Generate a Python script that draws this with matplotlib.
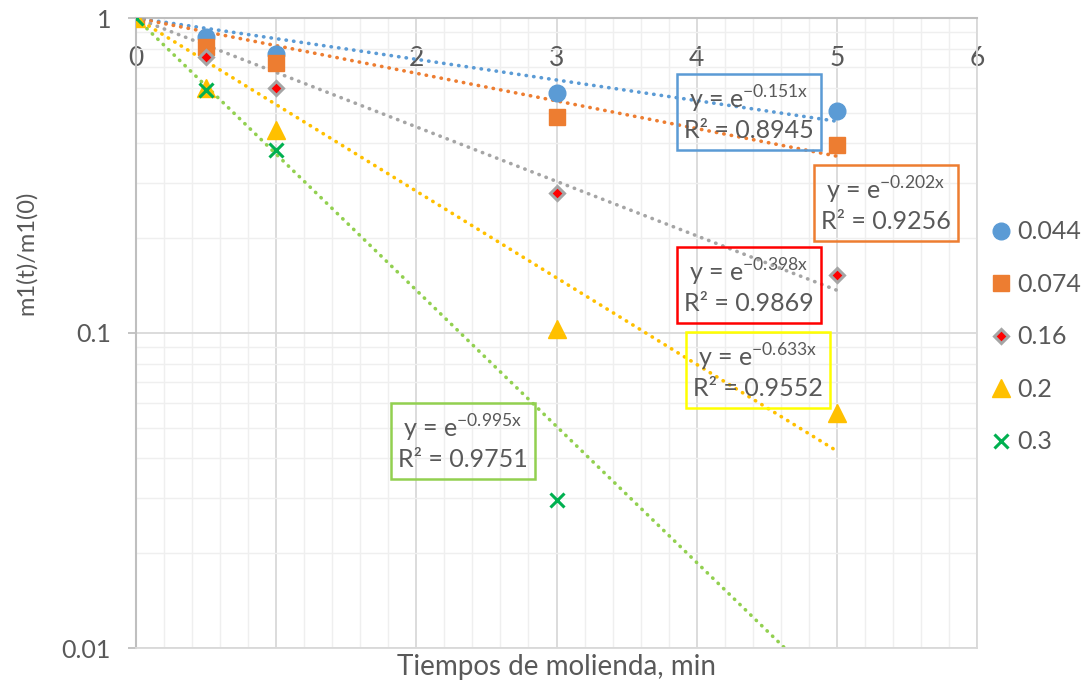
import numpy as np
import matplotlib
matplotlib.use('Agg')
import matplotlib.pyplot as plt
from matplotlib.ticker import FixedLocator, NullFormatter, FixedFormatter

plt.rcParams['font.family'] = ['Lato', 'DejaVu Sans']

# datos
tiempo = [0, 0.5, 1, 3, 5]
y_044 = [1, 0.87, 0.77, 0.58, 0.507]
y_074 = [1, 0.81, 0.72, 0.485, 0.395]
y_016 = [1, 0.75, 0.60, 0.278, 0.153]
y_02 = [1, 0.60, 0.44, 0.103, 0.0557]
t_03 = [0, 0.5, 1, 3]
y_03 = [1, 0.59, 0.38, 0.0295]
etiquetas = ['0.044', '0.074', '0.16', '0.2', '0.3']
k_ajuste = [0.151, 0.202, 0.398, 0.633, 0.995]
r2_ajuste = [0.8945, 0.9256, 0.9869, 0.9552, 0.9751]

gris = '#595959'
c_lin = ['#5B9BD5', '#ED7D31', '#A5A5A5', '#FFC000', '#92D050']
c_caja = ['#5B9BD5', '#ED7D31', '#FF0000', '#FFFF00', '#92D050']
pos_caja = [(749, 113), (886, 204), (749, 286), (758, 371), (463, 442)]

fig = plt.figure(figsize=(10.85, 6.86), dpi=100)
ax = fig.add_axes([136/1085, 1-648/686, 841/1085, 630/686])
ax.set_yscale('log')
ax.set_xlim(0, 6)
ax.set_ylim(0.01, 1)

# grid
ax.xaxis.set_major_locator(FixedLocator(range(7)))
ax.xaxis.set_minor_locator(FixedLocator(np.arange(0, 6.01, 0.2)))
ax.yaxis.set_major_locator(FixedLocator([0.01, 0.1, 1]))
ax.yaxis.set_minor_locator(FixedLocator([m*d for d in (0.01, 0.1) for m in range(2, 10)]))
ax.yaxis.set_major_formatter(FixedFormatter(['0.01', '0.1', '1']))
ax.yaxis.set_minor_formatter(NullFormatter())
ax.grid(which='minor', color='#efefef', lw=1.0, zorder=0)
ax.grid(which='major', color='#d9d9d9', lw=1.3, zorder=0)
ax.set_axisbelow(True)

for s in ['right', 'bottom']:
    ax.spines[s].set_color('#d9d9d9')
    ax.spines[s].set_linewidth(1.3)
for s in ['left', 'top']:
    ax.spines[s].set_color('#bfbfbf')
    ax.spines[s].set_linewidth(1.5)

ax.tick_params(axis='x', which='both', top=False, bottom=False, labeltop=True,
               labelbottom=False, length=0, pad=-38, labelsize=19, labelcolor=gris)
ax.tick_params(axis='y', which='major', length=6, color='#bfbfbf', width=1.3,
               pad=12, labelsize=18, labelcolor=gris)
ax.tick_params(axis='y', which='minor', length=0)

# lineas de tendencia
xs = np.linspace(0, 5, 200)
for k, c in zip(k_ajuste, c_lin):
    ax.plot(xs, np.exp(-k*xs), color=c, lw=2.6, linestyle=(0, (0.1, 2.0)),
            dash_capstyle='round', zorder=2)

# puntos
h1, = ax.plot(tiempo, y_044, 'o', color='#5B9BD5', ms=12, zorder=3, label=etiquetas[0])
h2, = ax.plot(tiempo, y_074, 's', color='#ED7D31', ms=11, zorder=3, label=etiquetas[1])
h3, = ax.plot(tiempo, y_016, 'D', mfc='#FF0000', mec='#A5A5A5', mew=2.2, ms=7, zorder=3, label=etiquetas[2])
h4, = ax.plot(tiempo, y_02, '^', color='#FFC000', ms=13, zorder=3, label=etiquetas[3])
h5, = ax.plot(t_03, y_03, 'x', color='#00B050', ms=10, mew=2.2, zorder=3, label=etiquetas[4])

# ecuaciones
for k, r2, c, (px, py) in zip(k_ajuste, r2_ajuste, c_caja, pos_caja):
    txt = 'y = e$^{\\mathregular{-%.3fx}}$\nR\u00b2 = %.4f' % (k, r2)
    fig.text(px/1085, 1-py/686, txt, ha='center', va='center', multialignment='center',
             fontsize=18, color=gris, linespacing=1.25,
             bbox=dict(boxstyle='square,pad=0.3', fc='none', ec=c, lw=1.8))

ax.set_xlabel('Tiempos de molienda, min', fontsize=20, color=gris, labelpad=4)
ax.set_ylabel('m1(t)/m1(0)', fontsize=17, color=gris)
ax.yaxis.set_label_coords(-0.118, 0.627)

fig.legend(handles=[h1, h2, h3, h4, h5], loc='center left',
           bbox_to_anchor=(0.89, 0.509), frameon=False, fontsize=18,
           labelspacing=1.18, handletextpad=0.15, handlelength=1.0,
           labelcolor=gris)

fig.savefig('out.png', dpi=100)
